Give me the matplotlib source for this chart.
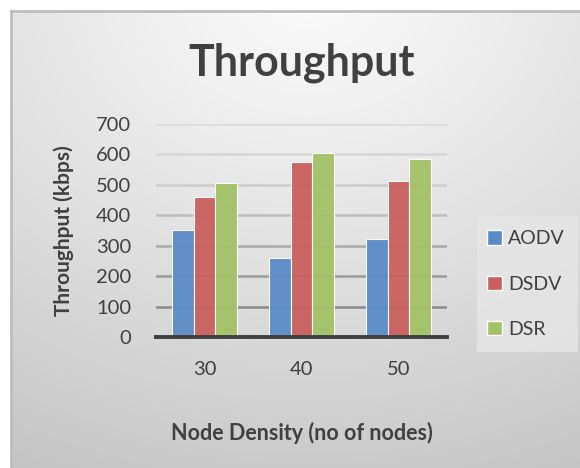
import numpy as np
import matplotlib
matplotlib.use("Agg")
import matplotlib.pyplot as plt
from matplotlib.patches import Patch, Rectangle

categories = ["30", "40", "50"]
series_names = ["AODV", "DSDV", "DSR"]
aodv = [352, 258, 321]
dsdv = [460, 574, 512]
dsr = [506, 606, 584]
values = [aodv, dsdv, dsr]
colors = ["#5b8bc6", "#c9605d", "#a3c167"]
yticks = [0, 100, 200, 300, 400, 500, 600, 700]

plt.rcParams['font.family'] = ['Lato', 'DejaVu Sans']

W, H = 580, 468
fig = plt.figure(figsize=(W / 100, H / 100), dpi=100)
fig.patch.set_facecolor("white")

# background gradient panel
bg = fig.add_axes([11 / W, 0, 1 - 11 / W, 1 - 11 / H])
bg.set_axis_off()
ny, nx = 200, 250
yy, xx = np.mgrid[0:ny, 0:nx]
cx, cy = nx * 0.52, -ny * 0.05
d = np.sqrt(((xx - cx) / nx) ** 2 + ((yy - cy) / ny) ** 2)
d = d / d.max()
v = 0.985 - 0.215 * np.clip(d, 0, 1) ** 1.1
img = np.dstack([v, v, v])
bg.imshow(img, aspect="auto", extent=[0, 1, 0, 1], origin="upper")
bg.set_xlim(0, 1)
bg.set_ylim(0, 1)
bg.plot([0, 0], [0, 1], color="#bdbdbd", lw=2, transform=bg.transAxes, clip_on=False)
bg.plot([0, 1], [1, 1], color="#bdbdbd", lw=2, transform=bg.transAxes, clip_on=False)

# legend background box
fig.patches.append(Rectangle((477 / W, 1 - 352 / H), 101 / W, 136 / H,
                             transform=fig.transFigure, facecolor="#e6e6e6",
                             edgecolor="none", alpha=0.85, zorder=1))

ax = fig.add_axes([156 / W, (H - 337) / H, 291 / W, 213 / H])
ax.set_facecolor("none")
x = np.arange(len(categories))
bw = 0.22
for i, (name, vals, c) in enumerate(zip(series_names, values, colors)):
    ax.bar(x + (i - 1) * bw, vals, width=bw, color=c, edgecolor="white",
           linewidth=0.8, label=name, zorder=3, alpha=0.95)

ax.set_xlim(-0.5, len(categories) - 0.5)
ax.set_ylim(0, 700)
ax.set_yticks(yticks)
ax.set_xticks(x)
ax.set_xticklabels(categories)
ax.tick_params(axis="both", length=0, labelsize=14.5, colors="#404040")
ax.tick_params(axis="y", pad=18)
ax.tick_params(axis="x", pad=17)
for s in ["top", "right", "left"]:
    ax.spines[s].set_visible(False)
ax.spines["bottom"].set_color("#404040")
ax.spines["bottom"].set_linewidth(2.8)
ax.spines["bottom"].set_zorder(4)
ax.yaxis.grid(True, zorder=0)
gl = ax.get_ygridlines()
gcols = ["#404040", "#8a8a8a", "#999999", "#a8a8a8", "#bdbdbd", "#cccccc", "#d6d6d6", "#dadada"]
for g, c in zip(gl, gcols):
    g.set_color(c)
    g.set_linewidth(1.8)

ax.set_ylabel("Throughput (kbps)", fontsize=15, fontweight="bold", color="#404040", labelpad=16)
ax.set_xlabel("Node Density (no of nodes)", fontsize=15.5, fontweight="bold", color="#404040", labelpad=32)

fig.text(302 / W, 1 - 63 / H, "Throughput", fontsize=31, fontweight="bold",
         color="#404040", ha="center", va="center")

handles = [Patch(facecolor=c, edgecolor="white", label=n) for n, c in zip(series_names, colors)]
leg = fig.legend(handles=handles, loc="center left", bbox_to_anchor=(487 / W, 1 - 284 / H),
                 frameon=False, fontsize=14, handlelength=0.75, handleheight=0.75,
                 handletextpad=0.35, labelspacing=1.45, borderpad=0, borderaxespad=0)
for t in leg.get_texts():
    t.set_color("#404040")

fig.savefig("out.png", dpi=100)
